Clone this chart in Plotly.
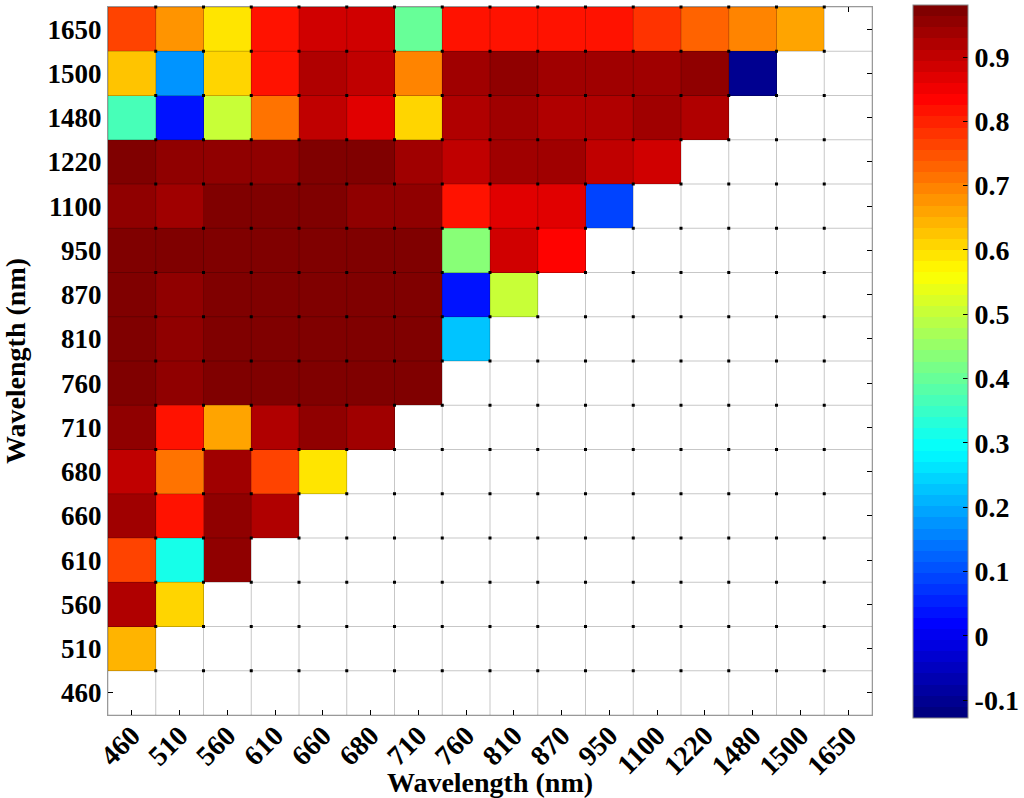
import plotly.graph_objects as go

wavelengths = [460, 510, 560, 610, 660, 680, 710, 760, 810, 870, 950, 1100, 1220, 1480, 1500, 1650]
tick_labels = [str(w) for w in wavelengths]

# values per row (y wavelength), for x = 460 .. (row wavelength - previous)
row_460 = []
row_510 = [0.651]
row_560 = [0.928, 0.602]
row_610 = [0.756, 0.322, 0.963]
row_660 = [0.946, 0.810, 0.963, 0.928]
row_680 = [0.911, 0.720, 0.946, 0.756, 0.585]
row_710 = [0.963, 0.810, 0.669, 0.928, 0.963, 0.946]
row_760 = [0.972, 0.963, 0.975, 0.975, 0.975, 0.975, 0.975]
row_810 = [0.972, 0.963, 0.975, 0.975, 0.975, 0.975, 0.975, 0.219]
row_870 = [0.972, 0.963, 0.975, 0.975, 0.975, 0.975, 0.975, 0.028, 0.510]
row_950 = [0.972, 0.970, 0.980, 0.980, 0.980, 0.980, 0.980, 0.427, 0.893, 0.842]
row_1100 = [0.963, 0.946, 0.972, 0.972, 0.972, 0.963, 0.963, 0.810, 0.876, 0.876, 0.097]
row_1220 = [0.980, 0.955, 0.963, 0.963, 0.972, 0.980, 0.946, 0.911, 0.946, 0.946, 0.911, 0.893]
row_1480 = [0.362, 0.028, 0.510, 0.704, 0.900, 0.861, 0.602, 0.928, 0.946, 0.928, 0.928, 0.937, 0.928]
row_1500 = [0.621, 0.167, 0.607, 0.810, 0.928, 0.911, 0.690, 0.946, 0.963, 0.946, 0.946, 0.946, 0.963, -0.110]
row_1650 = [0.768, 0.676, 0.585, 0.810, 0.893, 0.893, 0.399, 0.825, 0.825, 0.825, 0.808, 0.790, 0.738, 0.690, 0.657]

rows = [row_460, row_510, row_560, row_610, row_660, row_680, row_710, row_760,
        row_810, row_870, row_950, row_1100, row_1220, row_1480, row_1500, row_1650]

cbar_vals = [-0.1, 0, 0.1, 0.2, 0.3, 0.4, 0.5, 0.6, 0.7, 0.8, 0.9]
cbar_text = ["-0.1", "0", "0.1", "0.2", "0.3", "0.4", "0.5", "0.6", "0.7", "0.8", "0.9"]
zmin, zmax = -0.128, 0.981

n = len(wavelengths)
z = [r + [None] * (n - len(r)) for r in rows]


def clip(v):
    return max(0.0, min(1.0, v))


def jet(t):
    r = clip(1.5 - abs(4 * t - 3))
    g = clip(1.5 - abs(4 * t - 2))
    b = clip(1.5 - abs(4 * t - 1))
    return "rgb(%d,%d,%d)" % (round(r * 255), round(g * 255), round(b * 255))


levels = 64
colorscale = []
for k in range(levels):
    c = jet(k / (levels - 1))
    colorscale.append([k / levels, c])
    colorscale.append([(k + 1) / levels, c])

font_family = "Liberation Serif"
bold = dict(family=font_family, color="black", weight="bold")

ML, MR, MT, MB = 108, 152, 7, 83
W, H = 1024, 798
plot_w = W - ML - MR
plot_h = H - MT - MB

fig = go.Figure()
fig.add_trace(go.Heatmap(
    z=z, x=list(range(n)), y=list(range(n)),
    colorscale=colorscale, zmin=zmin, zmax=zmax,
    hoverongaps=False,
    colorbar=dict(
        x=(913 - ML) / plot_w, xanchor="left", xpad=0, ypad=0,
        y=-3 / plot_h, yanchor="bottom", yref="paper",
        len=713, lenmode="pixels",
        thickness=55, outlinewidth=1, outlinecolor="#888",
        tickvals=cbar_vals, ticktext=cbar_text, ticks="inside", ticklen=5,
        tickcolor="black",
        tickfont=dict(**bold, size=28),
    ),
))

# grid lines over the cells
shapes = []
for k in range(n + 1):
    shapes.append(dict(type="line", xref="x", yref="y", x0=k - 0.5, x1=k - 0.5,
                       y0=-0.5, y1=n - 0.5, line=dict(color="rgba(0,0,0,0.22)", width=1), layer="above"))
    shapes.append(dict(type="line", xref="x", yref="y", y0=k - 0.5, y1=k - 0.5,
                       x0=-0.5, x1=n - 0.5, line=dict(color="rgba(0,0,0,0.22)", width=1), layer="above"))

# small black marks at grid intersections
dx, dy = [], []
for i in range(1, n):
    for j in range(1, n + 1):
        dx.append(i - 0.5)
        dy.append(j - 0.5)
fig.add_trace(go.Scatter(x=dx, y=dy, mode="markers",
                         marker=dict(symbol="square", size=3, color="black"),
                         hoverinfo="skip", showlegend=False, cliponaxis=False))

axis_common = dict(
    tickmode="array", tickvals=list(range(n)), ticktext=tick_labels,
    ticks="inside", ticklen=5, tickcolor="black", mirror="ticks",
    showgrid=False, zeroline=False, showline=True, linecolor="#999", linewidth=1,
    range=[-0.5, n - 0.5], layer="below traces", automargin=False,
)

fig.update_layout(
    width=W, height=H,
    margin=dict(l=ML, r=MR, t=MT, b=MB, autoexpand=False),
    paper_bgcolor="white", plot_bgcolor="white",
    shapes=shapes, showlegend=False,
    xaxis=dict(**axis_common, tickangle=-45, tickfont=dict(**bold, size=28),
               ticklabelstandoff=-8,
               title=dict(text="Wavelength (nm)", font=dict(**bold, size=28))),
    yaxis=dict(**axis_common, tickfont=dict(**bold, size=27),
               title=dict(text="Wavelength (nm)", font=dict(**bold, size=28))),
)

fig.write_html("out.html", config={"displayModeBar": False},
               post_script="document.body.style.margin='0px';")
